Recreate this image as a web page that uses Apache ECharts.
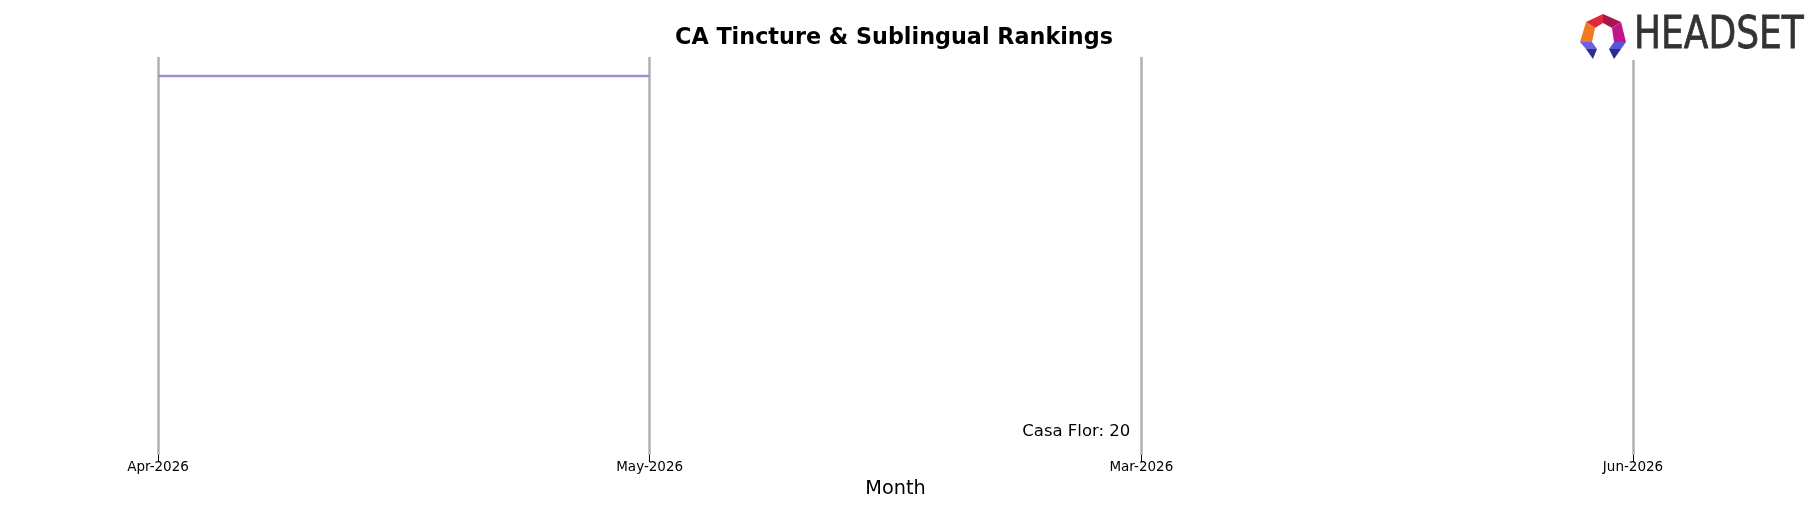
<!DOCTYPE html>
<html>
<head>
<meta charset="utf-8">
<script src="https://cdn.jsdelivr.net/npm/echarts@6/dist/echarts.min.js"></script>
<style>
  html, body { margin: 0; padding: 0; background: #fff; }
  #chart { width: 1818px; height: 507px; }
</style>
</head>
<body>
<div id="chart"></div>
<script>
// data (rank, 1 = best)
var months = ['Apr-2026', 'May-2026', 'Mar-2026', 'Jun-2026'];
var topBrandRanks = [1, 1, null, null];
var casaFlorRanks = [null, null, 20, null];
var rankMin = 0;
var rankMax = 21;

var FONT = 'DejaVu Sans';

// little headset logo, top right
function logo() {
  var parts = [
    { pts: [[1603, 14], [1586, 22], [1595, 28], [1603, 23]], c: '#dc2a3c' },
    { pts: [[1603, 14], [1621, 22], [1612, 28], [1603, 23]], c: '#a8164c' },
    { pts: [[1586, 22], [1580, 42], [1592, 42], [1595, 28]], c: '#f07a24' },
    { pts: [[1621, 22], [1626, 42], [1614, 42], [1612, 28]], c: '#c0168a' },
    { pts: [[1580, 42], [1592, 42], [1597, 49], [1586, 49]], c: '#6a62e0' },
    { pts: [[1586, 49], [1597, 49], [1593, 59]], c: '#2d2f8c' },
    { pts: [[1626, 42], [1614, 42], [1609, 49], [1621, 49]], c: '#5a55d8' },
    { pts: [[1621, 49], [1609, 49], [1614, 59]], c: '#2a2c88' }
  ];
  var els = [{
    type: 'rect',
    shape: { x: 1576, y: 10, width: 236, height: 50 },
    style: { fill: '#fff' },
    z: 50
  }];
  parts.forEach(function (p) {
    els.push({ type: 'polygon', shape: { points: p.pts }, style: { fill: p.c }, z: 51 });
  });
  els.push({
    type: 'text',
    x: 1634, y: 14,
    scaleX: 0.8,
    style: {
      text: 'HEADSET', fill: '#333333',
      font: 'normal 45px "DejaVu Sans"',
      stroke: '#333333', lineWidth: 0.8,
      textVerticalAlign: 'top'
    },
    z: 51
  });
  return els;
}

var chart = echarts.init(document.getElementById('chart'), null, { renderer: 'canvas' });

var option = {
  backgroundColor: '#fff',
  animation: false,
  title: {
    text: 'CA Tincture & Sublingual Rankings',
    left: 889,
    top: 22,
    textAlign: 'center',
    textStyle: { fontFamily: FONT, fontSize: 22.3, fontWeight: 'bold', color: '#000' }
  },
  grid: { left: 158, right: 185, top: 57, bottom: 52 },
  xAxis: {
    type: 'category',
    position: 'bottom',
    data: months,
    boundaryGap: false,
    name: 'Month',
    nameLocation: 'middle',
    nameGap: 24,
    nameTextStyle: { fontFamily: FONT, fontSize: 19.3, color: '#000' },
    axisLine: { show: false, onZero: false },
    axisTick: { show: true, length: 7, lineStyle: { color: '#000', width: 1 } },
    axisLabel: { fontFamily: FONT, fontSize: 13.5, color: '#000', margin: 5 },
    splitLine: { show: true, lineStyle: { color: '#b0b0b0', width: 2.5 } }
  },
  yAxis: {
    type: 'value',
    inverse: true,
    min: rankMin,
    max: rankMax,
    show: false,
    splitLine: { show: false }
  },
  series: [
    {
      name: 'Top brand',
      type: 'line',
      data: topBrandRanks,
      showSymbol: false,
      lineStyle: { color: '#9d8fd8', width: 2.5 },
      itemStyle: { color: '#9d8fd8' }
    },
    {
      name: 'Casa Flor',
      type: 'scatter',
      data: casaFlorRanks,
      symbolSize: 0,
      itemStyle: { opacity: 1 },
      label: {
        show: true,
        position: 'left',
        distance: 11,
        offset: [0, -4],
        formatter: function (p) { return 'Casa Flor: ' + p.value; },
        fontFamily: FONT,
        fontSize: 16.5,
        color: '#000',
        textBorderWidth: 0
      }
    }
  ],
  graphic: logo()
};

chart.setOption(option);
</script>
</body>
</html>
